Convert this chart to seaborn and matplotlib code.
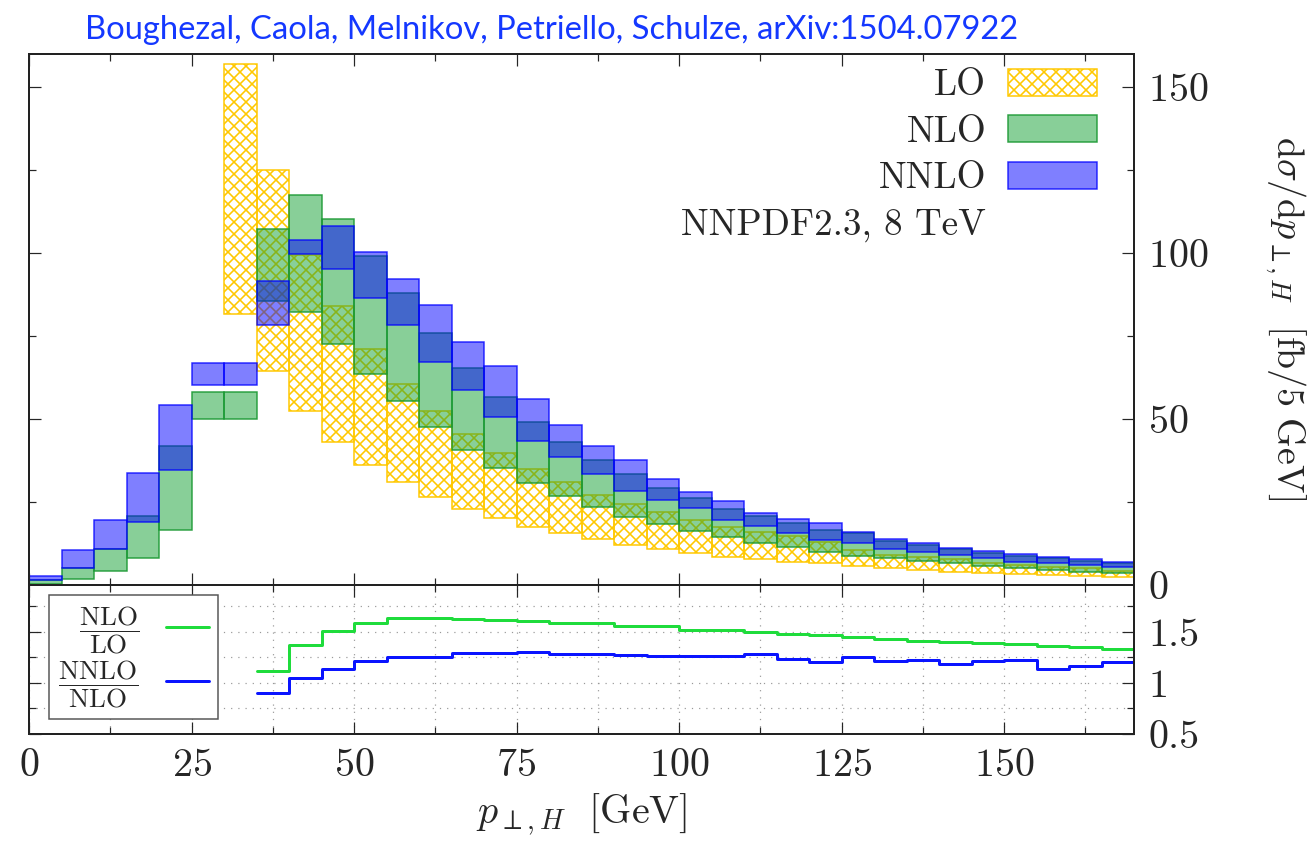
import numpy as np
import matplotlib
matplotlib.use("Agg")
import matplotlib.pyplot as plt
from matplotlib.patches import Patch
from matplotlib.lines import Line2D
from matplotlib.ticker import MultipleLocator, FuncFormatter
import seaborn as sns

# bin lower edges [GeV], 5 GeV bins
bin_w = 5.0
edges = np.arange(0, 170, 5)

# scale-variation bands (low, high) in fb/5 GeV
nlo_low = [0.2, 1.7, 4.2, 8.1, 16.7, 50.0, 50.0, 85.7, 82.4, 72.7, 63.5, 55.5, 47.5, 40.7, 35.4, 30.6, 26.9,
           23.4, 20.6, 18.4, 16.4, 14.4, 12.7, 11.5, 10.0, 8.7, 8.0, 7.3, 6.5, 5.7, 5.0, 4.5, 4.0, 3.7]
nlo_high = [1.4, 5.0, 10.7, 20.8, 42.0, 58.3, 58.3, 107.4, 117.5, 110.2, 99.1, 87.9, 75.8, 65.3, 56.5, 49.2, 43.0,
            37.7, 33.4, 29.1, 26.1, 22.9, 20.9, 18.6, 16.6, 15.7, 13.4, 12.2, 10.7, 9.7, 8.7, 8.0, 7.3, 6.5]
nnlo_low = [1.4, 5.0, 10.7, 19.1, 34.7, 60.4, 60.4, 78.2, 99.8, 95.1, 86.5, 78.3, 67.1, 58.7, 50.5, 43.5, 38.5,
            33.4, 28.4, 25.6, 23.1, 19.6, 17.8, 15.8, 13.6, 12.7, 10.7, 10.0, 9.0, 8.0, 7.0, 6.5, 6.0, 5.3]
nnlo_high = [2.7, 10.4, 19.6, 33.6, 54.3, 67.0, 67.0, 91.5, 104.0, 108.1, 100.3, 92.1, 84.5, 73.3, 66.0, 56.0, 48.2,
             41.9, 37.7, 31.9, 28.1, 25.4, 21.6, 19.8, 18.8, 16.1, 13.8, 12.6, 11.2, 10.2, 9.2, 8.3, 7.7, 7.0]

# LO is zero below 30 GeV
lo_edges = np.arange(30, 170, 5)
lo_low = [81.6, 64.6, 52.4, 43.0, 36.3, 31.1, 26.6, 22.9, 20.1, 17.6, 15.6, 13.8, 12.0, 10.7,
          9.5, 8.5, 7.7, 7.0, 6.5, 5.7, 5.0, 4.5, 4.0, 3.7, 3.3, 3.0, 2.8, 2.5]
lo_high = [157.1, 125.0, 99.3, 84.2, 71.1, 60.7, 52.4, 45.5, 39.7, 35.1, 30.9, 27.1, 24.4, 21.9,
           19.6, 17.6, 16.1, 14.8, 13.0, 10.5, 9.0, 8.5, 7.7, 6.7, 6.0, 5.5, 5.0, 4.3]

# ratios of central values, from 35 GeV
ratio_edges = np.arange(35, 170, 5)
nlo_over_lo = [1.12, 1.375, 1.51, 1.59, 1.64, 1.64, 1.63, 1.62, 1.605, 1.59, 1.585, 1.555, 1.56, 1.52,
               1.515, 1.50, 1.475, 1.47, 1.455, 1.43, 1.415, 1.40, 1.395, 1.385, 1.365, 1.35, 1.33]
nnlo_over_nlo = [0.90, 1.05, 1.14, 1.22, 1.25, 1.255, 1.29, 1.295, 1.30, 1.285, 1.285, 1.27, 1.265, 1.265,
                 1.26, 1.28, 1.235, 1.205, 1.255, 1.215, 1.225, 1.185, 1.215, 1.23, 1.135, 1.17, 1.205]

LO_COL = "#FFC800"
NLO_FACE = (0.07, 0.63, 0.2, 0.5)
NLO_EDGE = (0.1, 0.6, 0.2, 0.9)
NNLO_FACE = (0.0, 0.0, 1.0, 0.5)
NNLO_EDGE = (0.0, 0.0, 1.0, 0.8)

sns.set_theme(style="ticks")
plt.rcParams["font.family"] = ["cmr10", "DejaVu Serif"]
plt.rcParams["mathtext.fontset"] = "cm"
plt.rcParams["axes.unicode_minus"] = False
plt.rcParams["axes.formatter.use_mathtext"] = True
plt.rcParams["hatch.linewidth"] = 1.6


def band(ax, x, low, high, **kw):
    low = np.asarray(low)
    high = np.asarray(high)
    ax.bar(x, high - low, bottom=low, width=bin_w, align="edge", **kw)


fig = plt.figure(figsize=(1307 / 72, 841 / 72), dpi=72)
left, width = 29 / 1307, 1105 / 1307
ax = fig.add_axes([left, 1 - 585 / 841, width, 531 / 841])
axr = fig.add_axes([left, 1 - 734 / 841, width, 149 / 841], sharex=ax)

band(ax, lo_edges, lo_low, lo_high, facecolor="none", edgecolor=LO_COL, hatch="xx", linewidth=1.5)
band(ax, edges, nlo_low, nlo_high, facecolor=NLO_FACE, edgecolor=NLO_EDGE, linewidth=1.5)
band(ax, edges, nnlo_low, nnlo_high, facecolor=NNLO_FACE, edgecolor=NNLO_EDGE, linewidth=1.5)

ax.set_xlim(0, 170)
ax.set_ylim(0, 160)
ax.xaxis.set_major_locator(MultipleLocator(25))
ax.xaxis.set_minor_locator(MultipleLocator(12.5))
ax.yaxis.set_major_locator(MultipleLocator(50))
ax.yaxis.set_minor_locator(MultipleLocator(25))
ax.tick_params(axis="both", which="both", direction="in", top=True, bottom=True, left=True, right=True,
               labelleft=False, labelright=True, labelbottom=False, labelsize=40, pad=14, width=1.2)
ax.tick_params(which="major", length=12)
ax.tick_params(which="minor", length=7)

handles = [
    Patch(facecolor="white", edgecolor=LO_COL, hatch="xx", linewidth=1.5),
    Patch(facecolor=NLO_FACE, edgecolor=NLO_EDGE, linewidth=1.5),
    Patch(facecolor=NNLO_FACE, edgecolor=NNLO_EDGE, linewidth=1.5),
    Patch(facecolor="none", edgecolor="none"),
]
ax.legend(handles, ["LO", "NLO", "NNLO", "NNPDF2.3, 8 TeV"], loc="upper right",
          bbox_to_anchor=(0.98, 1.0), borderaxespad=0, frameon=False, markerfirst=False,
          fontsize=37, handlelength=2.4, handleheight=0.75, labelspacing=0.35, handletextpad=0.6)

# ratio panel
ratio_x = np.append(ratio_edges, ratio_edges[-1] + bin_w)
sns.lineplot(x=ratio_x, y=np.append(nlo_over_lo, nlo_over_lo[-1]), drawstyle="steps-post",
             color="#1FDC3C", lw=3, estimator=None, ax=axr)
sns.lineplot(x=ratio_x, y=np.append(nnlo_over_nlo, nnlo_over_nlo[-1]), drawstyle="steps-post",
             color="#0A14FF", lw=3, estimator=None, ax=axr)

axr.set_ylim(0.5, 1.96)
axr.yaxis.set_major_locator(MultipleLocator(0.5))
axr.yaxis.set_minor_locator(MultipleLocator(0.25))
axr.yaxis.set_major_formatter(FuncFormatter(lambda v, p: f"{v:g}"))
axr.grid(which="both", linestyle=(0, (1, 5)), color="#999999", linewidth=1.2)
axr.tick_params(axis="both", which="both", direction="in", top=True, bottom=True, left=True, right=True,
                labelleft=False, labelright=True, labelsize=40, pad=14, width=1.2)
axr.tick_params(which="major", length=12)
axr.tick_params(which="minor", length=7)
axr.set_xlabel(r"$p_{\perp,H}\ \ [\mathrm{GeV}]$", fontsize=40, labelpad=8)
axr.set_ylabel("")

for a in (ax, axr):
    for s in a.spines.values():
        s.set_linewidth(2)
        s.set_color("#222222")

rh = [Line2D([], [], color="#1FDC3C", lw=3), Line2D([], [], color="#0A14FF", lw=3)]
leg = axr.legend(rh, [r"$\dfrac{\mathrm{NLO}}{\mathrm{LO}}$", r"$\dfrac{\mathrm{NNLO}}{\mathrm{NLO}}$"],
                 loc="upper left", bbox_to_anchor=(0.018, 0.933), borderaxespad=0, markerfirst=False,
                 fontsize=27, handlelength=1.6, labelspacing=0.1, borderpad=0.35, handletextpad=1.0,
                 fancybox=False, framealpha=1)
leg.get_frame().set_edgecolor("#555555")
leg.get_frame().set_linewidth(1.5)

fig.text(1285 / 1307, 1 - 318 / 841, r"$\mathrm{d}\sigma/\mathrm{d}p_{\perp,H}\ \ [\mathrm{fb}/5\ \mathrm{GeV}]$",
         rotation=270, ha="center", va="center", fontsize=38)
fig.text(552 / 1307, 1 - 30 / 841, "Boughezal, Caola, Melnikov, Petriello, Schulze, arXiv:1504.07922",
         ha="center", va="center", color="#1438FF", fontsize=32.7, family="Lato")

fig.savefig("out.png", dpi=72)
